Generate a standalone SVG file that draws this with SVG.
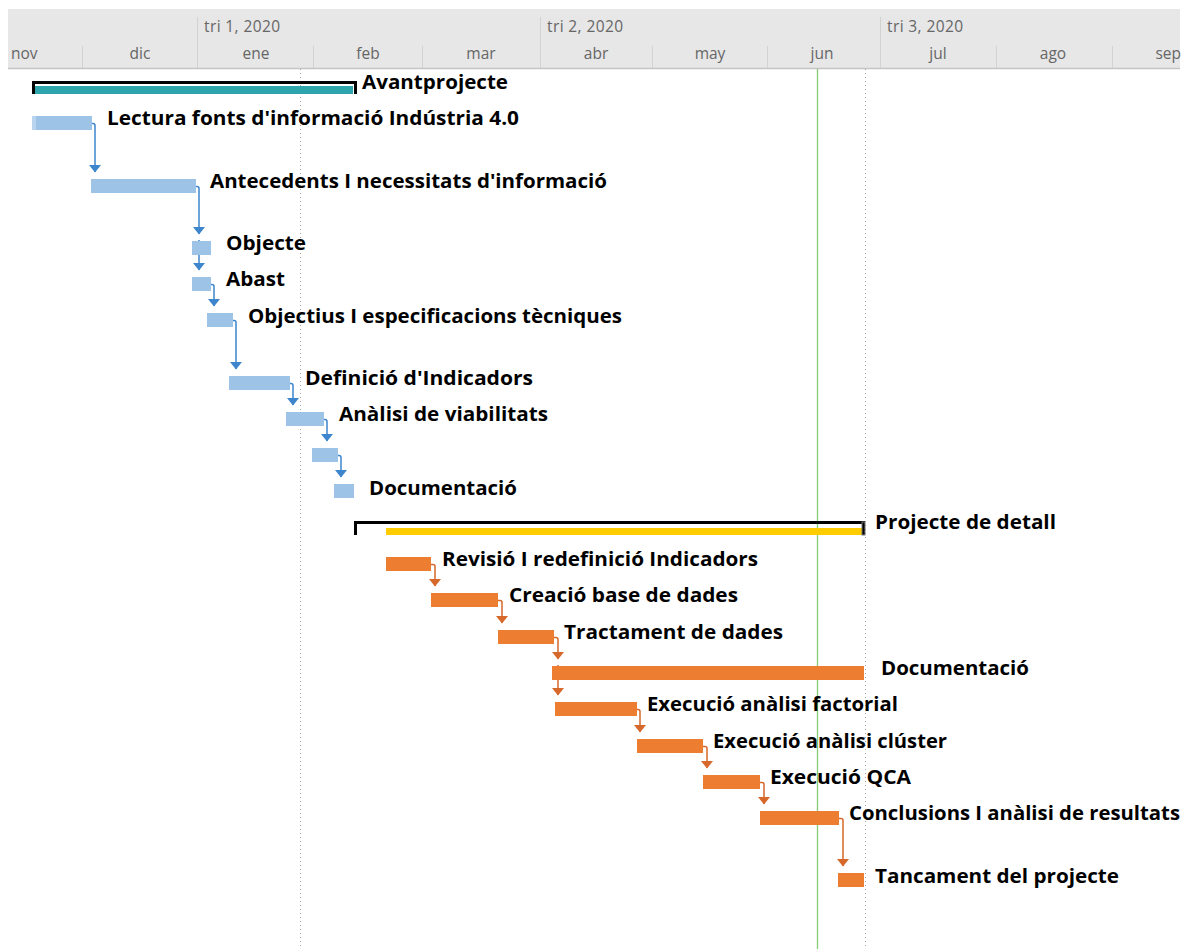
<svg xmlns="http://www.w3.org/2000/svg" width="1191" height="949" viewBox="0 0 1191 949">
  <style>
    .hdr { font-family: "Open Sans", "Noto Sans", sans-serif; font-size: 15.5px; fill: #666666; }
    .lbl { font-family: "Open Sans", "Noto Sans", sans-serif; font-size: 19.5px; font-weight: 700; fill: #000000; }
    .sep { stroke: #d2d2d2; stroke-width: 1; }
    .blue { fill: #9dc3e6; }
    .orange { fill: #ed7d31; }
    .lnkB { fill: none; stroke: #3d85cc; stroke-width: 1.5; }
    .lnkO { fill: none; stroke: #d5682a; stroke-width: 1.5; }
    .grid { stroke: #a6a6a6; stroke-width: 1; stroke-dasharray: 1 3; }
  </style>
  <defs>
    <marker id="arrB" markerWidth="12" markerHeight="8" refX="6" refY="7" orient="0" markerUnits="userSpaceOnUse" overflow="visible">
      <path d="M0,0 H12 L6,7.5 Z" fill="#3d85cc"/>
    </marker>
    <marker id="arrO" markerWidth="12" markerHeight="8" refX="6" refY="7" orient="0" markerUnits="userSpaceOnUse" overflow="visible">
      <path d="M0,0 H12 L6,7.5 Z" fill="#d5682a"/>
    </marker>
  </defs>
  <rect width="1191" height="949" fill="#ffffff"/>

  <!-- timescale header -->
  <g id="timescale">
    <rect x="8" y="9" width="1172" height="60" fill="#e7e7e7"/>
    <line x1="8" y1="68.5" x2="1180" y2="68.5" stroke="#c4c4c4" stroke-width="1.5"/>
    <line class="sep" x1="197.5" y1="17" x2="197.5" y2="68"/>
    <line class="sep" x1="540.5" y1="17" x2="540.5" y2="68"/>
    <line class="sep" x1="880.5" y1="17" x2="880.5" y2="68"/>
    <line class="sep" x1="82.5" y1="46" x2="82.5" y2="68"/>
    <line class="sep" x1="313.5" y1="46" x2="313.5" y2="68"/>
    <line class="sep" x1="422.5" y1="46" x2="422.5" y2="68"/>
    <line class="sep" x1="652.5" y1="46" x2="652.5" y2="68"/>
    <line class="sep" x1="767.5" y1="46" x2="767.5" y2="68"/>
    <line class="sep" x1="996.5" y1="46" x2="996.5" y2="68"/>
    <line class="sep" x1="1112.5" y1="46" x2="1112.5" y2="68"/>
    <text class="hdr" x="204" y="32" textLength="76">tri 1, 2020</text>
    <text class="hdr" x="547" y="32" textLength="76">tri 2, 2020</text>
    <text class="hdr" x="887" y="32" textLength="76">tri 3, 2020</text>
    <text class="hdr" x="11" y="59">nov</text>
    <g text-anchor="middle">
      <text class="hdr" x="140" y="59">dic</text>
      <text class="hdr" x="256" y="59">ene</text>
      <text class="hdr" x="368" y="59">feb</text>
      <text class="hdr" x="481" y="59">mar</text>
      <text class="hdr" x="596" y="59">abr</text>
      <text class="hdr" x="710" y="59">may</text>
      <text class="hdr" x="822" y="59">jun</text>
      <text class="hdr" x="938" y="59">jul</text>
      <text class="hdr" x="1053" y="59">ago</text>
    </g>
    <text class="hdr" x="1181" y="59" text-anchor="end">sep</text>
  </g>

  <!-- gridlines: status date and today -->
  <g id="gridlines">
    <line class="grid" x1="300.5" y1="69" x2="300.5" y2="949"/>
    <line class="grid" x1="865.5" y1="69" x2="865.5" y2="949"/>
    <line x1="817.5" y1="69" x2="817.5" y2="949" stroke="#86cc74" stroke-width="1.3"/>
  </g>

  <!-- summary tasks -->
  <g id="avantprojecte">
    <rect x="35" y="86" width="318" height="8" fill="#2ea4ac"/>
    <path d="M33.5,94 V82.5 H355.5 V94" fill="none" stroke="#000" stroke-width="3"/>
    <text class="lbl" x="362" y="89" textLength="146" lengthAdjust="spacingAndGlyphs">Avantprojecte</text>
  </g>
  <g id="projecte-detall">
    <rect x="386" y="528" width="477" height="7" fill="#ffcc00"/>
    <path d="M355.5,535 V522.5 H863.5 V535" fill="none" stroke="#000" stroke-width="3"/>
    <rect x="862" y="522" width="3" height="13" fill="none" stroke="#777" stroke-width="1"/>
    <text class="lbl" x="875" y="529" textLength="181" lengthAdjust="spacingAndGlyphs">Projecte de detall</text>
  </g>

  <!-- connectors -->
  <g id="connectors">
    <path class="lnkB" d="M92,123.5 H93 Q95,123.5 95,125.5 V172" marker-end="url(#arrB)"/>
    <path class="lnkB" d="M196,186.5 H197 Q199,186.5 199,188.5 V234" marker-end="url(#arrB)"/>
    <path class="lnkB" d="M199,240 V270" marker-end="url(#arrB)"/>
    <path class="lnkB" d="M211,284.5 H212 Q214,284.5 214,286.5 V306" marker-end="url(#arrB)"/>
    <path class="lnkB" d="M233,320.5 H234 Q236,320.5 236,322.5 V369" marker-end="url(#arrB)"/>
    <path class="lnkB" d="M290,383.5 H291 Q293,383.5 293,385.5 V405" marker-end="url(#arrB)"/>
    <path class="lnkB" d="M324,419.5 H325 Q327,419.5 327,421.5 V441" marker-end="url(#arrB)"/>
    <path class="lnkB" d="M338,455.5 H339 Q341,455.5 341,457.5 V477" marker-end="url(#arrB)"/>

    <path class="lnkO" d="M431,564.5 H433 Q435,564.5 435,566.5 V586" marker-end="url(#arrO)"/>
    <path class="lnkO" d="M498,600.5 H500 Q502,600.5 502,602.5 V623" marker-end="url(#arrO)"/>
    <path class="lnkO" d="M554,637.5 H556 Q558,637.5 558,639.5 V659" marker-end="url(#arrO)"/>
    <path class="lnkO" d="M558,665 V695" marker-end="url(#arrO)"/>
    <path class="lnkO" d="M637,709.5 H638 Q640,709.5 640,711.5 V732" marker-end="url(#arrO)"/>
    <path class="lnkO" d="M703,746.5 H705 Q707,746.5 707,748.5 V768" marker-end="url(#arrO)"/>
    <path class="lnkO" d="M760,782.5 H762 Q764,782.5 764,784.5 V804" marker-end="url(#arrO)"/>
    <path class="lnkO" d="M839,818.5 H841 Q843,818.5 843,820.5 V866" marker-end="url(#arrO)"/>
  </g>

  <!-- Avantprojecte tasks -->
  <g id="t-lectura">
    <rect class="blue" x="32" y="116" width="60" height="14"/>
    <rect x="32" y="116" width="4" height="14" fill="#b9d4ee"/>
    <text class="lbl" x="107" y="125" textLength="412" lengthAdjust="spacingAndGlyphs">Lectura fonts d'informació Indústria 4.0</text>
  </g>
  <g id="t-antecedents">
    <rect class="blue" x="91" y="179" width="105" height="14"/>
    <text class="lbl" x="210" y="188" textLength="397" lengthAdjust="spacingAndGlyphs">Antecedents I necessitats d'informació</text>
  </g>
  <g id="t-objecte">
    <rect class="blue" x="192" y="241" width="19" height="14"/>
    <text class="lbl" x="226" y="250" textLength="80" lengthAdjust="spacingAndGlyphs">Objecte</text>
  </g>
  <g id="t-abast">
    <rect class="blue" x="192" y="277" width="19" height="14"/>
    <text class="lbl" x="226" y="286" textLength="59" lengthAdjust="spacingAndGlyphs">Abast</text>
  </g>
  <g id="t-objectius">
    <rect class="blue" x="207" y="313" width="26" height="14"/>
    <text class="lbl" x="248" y="323" textLength="374" lengthAdjust="spacingAndGlyphs">Objectius I especificacions tècniques</text>
  </g>
  <g id="t-definicio">
    <rect class="blue" x="229" y="376" width="61" height="14"/>
    <text class="lbl" x="305" y="385" textLength="228" lengthAdjust="spacingAndGlyphs">Definició d'Indicadors</text>
  </g>
  <g id="t-analisi">
    <rect class="blue" x="286" y="412" width="38" height="14"/>
    <text class="lbl" x="339" y="421" textLength="209" lengthAdjust="spacingAndGlyphs">Anàlisi de viabilitats</text>
  </g>
  <g id="t-unnamed">
    <rect class="blue" x="312" y="448" width="26" height="14"/>
  </g>
  <g id="t-documentacio-1">
    <rect class="blue" x="334" y="484" width="20" height="14"/>
    <text class="lbl" x="369" y="495" textLength="148" lengthAdjust="spacingAndGlyphs">Documentació</text>
  </g>

  <!-- Projecte de detall tasks -->
  <g id="t-revisio">
    <rect class="orange" x="386" y="557" width="45" height="14"/>
    <text class="lbl" x="442" y="566" textLength="316" lengthAdjust="spacingAndGlyphs">Revisió I redefinició Indicadors</text>
  </g>
  <g id="t-creacio">
    <rect class="orange" x="431" y="593" width="67" height="14"/>
    <text class="lbl" x="509" y="602" textLength="229" lengthAdjust="spacingAndGlyphs">Creació base de dades</text>
  </g>
  <g id="t-tractament">
    <rect class="orange" x="498" y="630" width="56" height="14"/>
    <text class="lbl" x="564" y="639" textLength="219" lengthAdjust="spacingAndGlyphs">Tractament de dades</text>
  </g>
  <g id="t-documentacio-2">
    <rect class="orange" x="552" y="666" width="312" height="14"/>
    <text class="lbl" x="881" y="675" textLength="148" lengthAdjust="spacingAndGlyphs">Documentació</text>
  </g>
  <g id="t-factorial">
    <rect class="orange" x="555" y="702" width="82" height="14"/>
    <text class="lbl" x="647" y="711" textLength="251" lengthAdjust="spacingAndGlyphs">Execució anàlisi factorial</text>
  </g>
  <g id="t-cluster">
    <rect class="orange" x="637" y="739" width="66" height="14"/>
    <text class="lbl" x="713" y="748" textLength="234" lengthAdjust="spacingAndGlyphs">Execució anàlisi clúster</text>
  </g>
  <g id="t-qca">
    <rect class="orange" x="703" y="775" width="57" height="14"/>
    <text class="lbl" x="770" y="784" textLength="141" lengthAdjust="spacingAndGlyphs">Execució QCA</text>
  </g>
  <g id="t-conclusions">
    <rect class="orange" x="760" y="811" width="79" height="14"/>
    <text class="lbl" x="849" y="820" textLength="331" lengthAdjust="spacingAndGlyphs">Conclusions I anàlisi de resultats</text>
  </g>
  <g id="t-tancament">
    <rect class="orange" x="838" y="873" width="26" height="14"/>
    <text class="lbl" x="875" y="883" textLength="244" lengthAdjust="spacingAndGlyphs">Tancament del projecte</text>
  </g>
</svg>
